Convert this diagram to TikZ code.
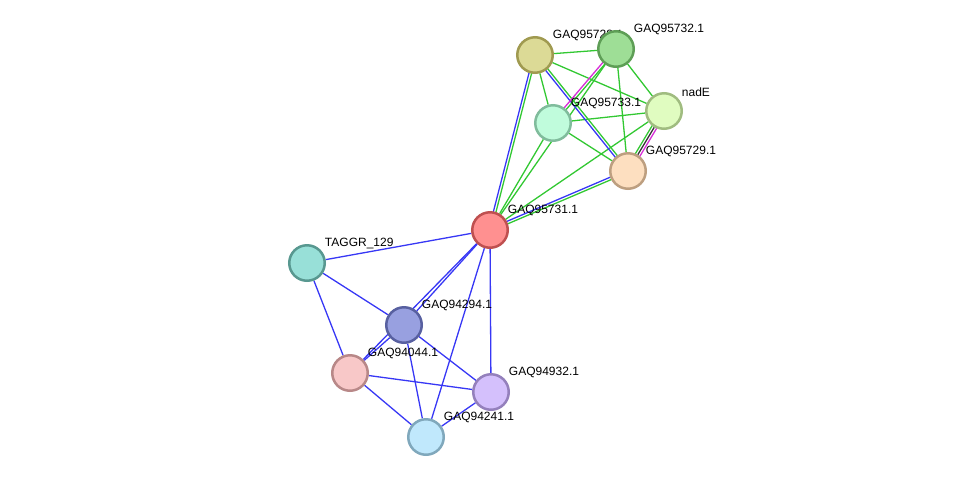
\documentclass[tikz,border=0pt]{standalone}
\usepackage{fontspec}
\setmainfont{Liberation Sans}
\usetikzlibrary{calc,backgrounds}
\definecolor{lnkgreen}{RGB}{50,200,50}
\definecolor{lnkblue}{RGB}{55,55,245}
\definecolor{lnkmag}{RGB}{215,45,215}
\definecolor{lnkdark}{RGB}{50,50,50}

% two links side by side: #3 on the right of #1->#2, #4 on the left
\newcommand{\duolink}[4]{%
  \draw[link,#3] ($(#1.center)!1.3pt!-90:(#2.center)$) -- ($(#2.center)!1.3pt!90:(#1.center)$);
  \draw[link,#4] ($(#1.center)!1.3pt!90:(#2.center)$) -- ($(#2.center)!1.3pt!-90:(#1.center)$);}
% three links side by side
\newcommand{\trilink}[5]{%
  \draw[link,#3] ($(#1.center)!2.6pt!-90:(#2.center)$) -- ($(#2.center)!2.6pt!90:(#1.center)$);
  \draw[link,#4] (#1) -- (#2);
  \draw[link,#5] ($(#1.center)!2.6pt!90:(#2.center)$) -- ($(#2.center)!2.6pt!-90:(#1.center)$);}

\begin{document}
\begin{tikzpicture}[x=1pt, y=-1pt,
    protein/.style={circle, line width=2.5pt, minimum size=35.5pt, inner sep=0pt},
    lbl/.style={font=\fontsize{12}{14}\selectfont, text=black, xshift=1pt, yshift=-3pt},
    link/.style={line width=1.3pt}]
  \useasboundingbox (0,0) rectangle (975,483);
  % proteins
  \node[protein, draw={rgb,255:red,160;green,154;blue,80}, fill={rgb,255:red,220;green,218;blue,150},
        label={[lbl]45:GAQ95728.1}] (m28) at (535,55) {};
  \node[protein, draw={rgb,255:red,94;green,158;blue,86}, fill={rgb,255:red,158;green,222;blue,150},
        label={[lbl]45:GAQ95732.1}] (m32) at (616,49) {};
  \node[protein, draw={rgb,255:red,160;green,188;blue,128}, fill={rgb,255:red,224;green,252;blue,192},
        label={[lbl]45:nadE}] (nad) at (664,111) {};
  \node[protein, draw={rgb,255:red,128;green,188;blue,156}, fill={rgb,255:red,192;green,252;blue,220},
        label={[lbl]45:GAQ95733.1}] (m33) at (553,123) {};
  \node[protein, draw={rgb,255:red,189;green,159;blue,128}, fill={rgb,255:red,253;green,223;blue,192},
        label={[lbl]45:GAQ95729.1}] (m29) at (628,171) {};
  \node[protein, draw={rgb,255:red,191;green,80;blue,80}, fill={rgb,255:red,255;green,144;blue,144},
        label={[lbl]45:GAQ95731.1}] (m31) at (490,230) {};
  \node[protein, draw={rgb,255:red,88;green,152;blue,144}, fill={rgb,255:red,152;green,224;blue,216},
        label={[lbl]45:TAGGR\_129}] (tag) at (307,263) {};
  \node[protein, draw={rgb,255:red,88;green,96;blue,160}, fill={rgb,255:red,152;green,160;blue,224},
        label={[lbl]45:GAQ94294.1}] (g294) at (404,325) {};
  \node[protein, draw={rgb,255:red,184;green,136;blue,136}, fill={rgb,255:red,248;green,200;blue,200},
        label={[lbl]45:GAQ94044.1}] (g044) at (350,373) {};
  \node[protein, draw={rgb,255:red,148;green,128;blue,188}, fill={rgb,255:red,212;green,192;blue,252},
        label={[lbl]45:GAQ94932.1}] (g932) at (491,392) {};
  \node[protein, draw={rgb,255:red,128;green,168;blue,188}, fill={rgb,255:red,192;green,232;blue,252},
        label={[lbl]45:GAQ94241.1}] (g241) at (426,437) {};
  % links
  \begin{pgfonlayer}{background}
    \foreach \a/\b in {m28/m32, m28/nad, m28/m33, m32/nad, m32/m29, m32/m31,
                       m33/nad, m33/m29, m33/m31, nad/m31}{
      \draw[link, lnkgreen] (\a) -- (\b);
    }
    \foreach \a/\b in {m31/tag, m31/g294, m31/g044, m31/g241, m31/g932, tag/g294, tag/g044,
                       g294/g044, g294/g932, g294/g241, g044/g932, g044/g241, g932/g241}{
      \draw[link, lnkblue] (\a) -- (\b);
    }
    \duolink{m28}{m31}{lnkblue}{lnkgreen}
    \duolink{m28}{m29}{lnkblue}{lnkgreen}
    \duolink{m29}{m31}{lnkblue}{lnkgreen}
    \duolink{m32}{m33}{lnkmag}{lnkgreen}
    \trilink{nad}{m29}{lnkgreen}{lnkdark}{lnkmag}
  \end{pgfonlayer}
\end{tikzpicture}
\end{document}
